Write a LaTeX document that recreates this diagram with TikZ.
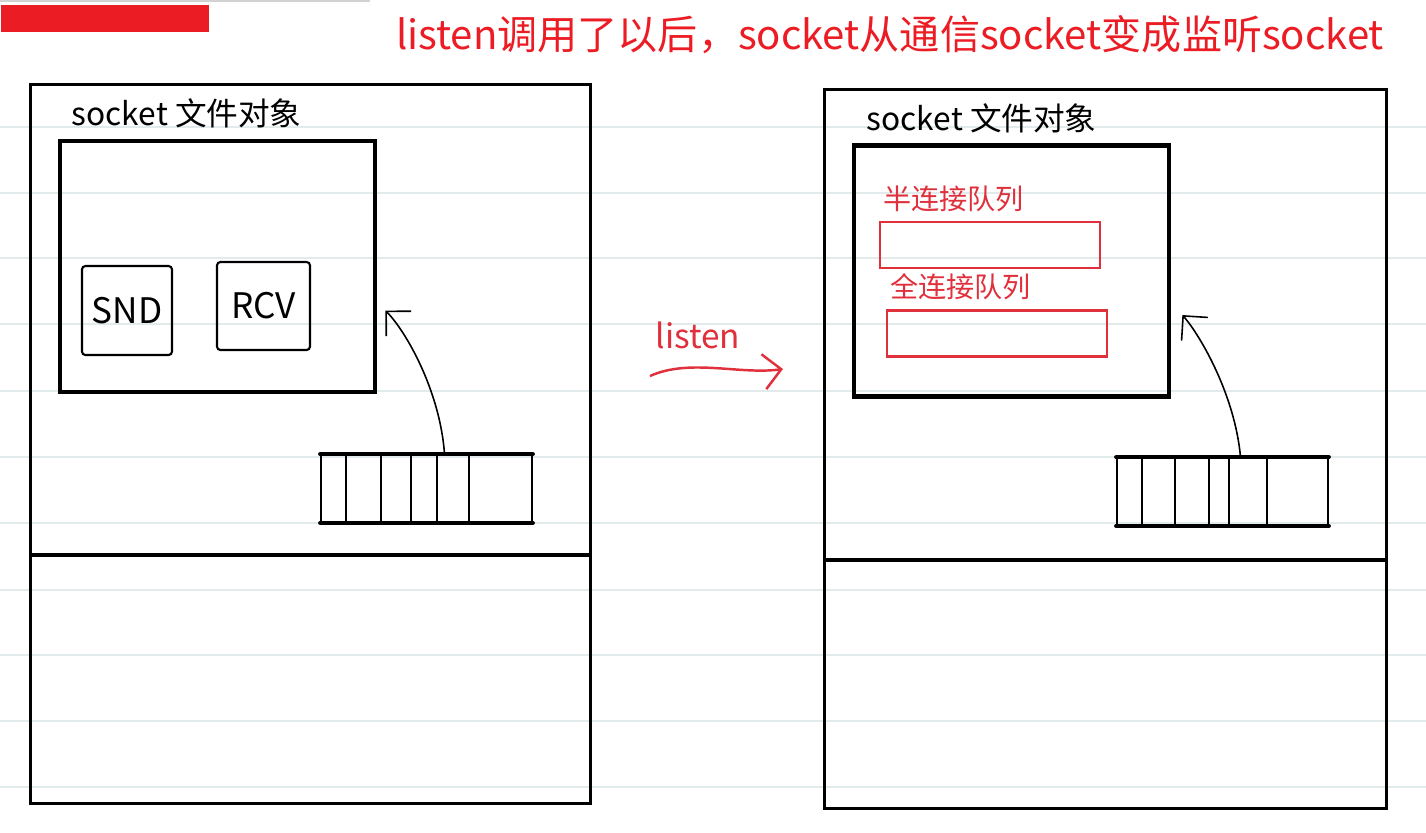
\documentclass[tikz,border=0pt]{standalone}
\usepackage{fontspec}
\newfontfamily\cjk{Noto Sans CJK SC}
\usetikzlibrary{arrows.meta,positioning}
\definecolor{titlered}{HTML}{EC1C24}
\definecolor{penred}{HTML}{E0303C}
\definecolor{ruled}{HTML}{E2EBEB}
\begin{document}
\begin{tikzpicture}[x=0.01cm,y=-0.01cm,
  frame/.style={draw, line width=0.9pt, inner sep=0pt, minimum height=7.18cm},
  objbox/.style={draw, line width=1.3pt, minimum width=3.15cm, minimum height=2.51cm, inner sep=0pt},
  bufbox/.style={draw, line width=0.6pt, rounded corners=1pt, inner sep=0pt, font=\cjk\fontsize{10}{12}\selectfont},
  queue/.style={draw, line width=0.5pt, minimum width=2.11cm, minimum height=0.67cm, inner sep=0pt},
  qedge/.style={line width=1.1pt, line cap=round},
  hand/.style={font=\cjk\fontsize{9}{11}\selectfont, inner sep=1pt, anchor=south west},
  redq/.style={draw=penred, line width=0.6pt, minimum width=2.2cm, minimum height=0.46cm, inner sep=0pt},
  redlabel/.style={text=penred, font=\cjk\fontsize{8}{10}\selectfont, inner sep=1pt, anchor=south west},
  pen/.style={line width=0.45pt, -{Straight Barb[length=5pt]}}
]
\useasboundingbox (0,0) rectangle (1426,832);
% ruled paper
\foreach \y in {127,193,258,324,391,457,523,590,655,721,787}
  \draw[ruled, line width=0.5pt] (0,\y) -- (1426,\y);
\draw[gray!35, line width=0.6pt] (0,1) -- (370,1);

% title
\fill[titlered] (1,5) rectangle (209,32);
\node[text=titlered, font=\cjk\fontsize{11.4}{13}\selectfont, inner sep=0pt] (title) at (890,35) {listen调用了以后，socket从通信socket变成监听socket};

% before listen
\node[frame, minimum width=5.59cm] (lsock) at (310.5,444){};
\draw[line width=1.1pt] ([yshift=-1.11cm]lsock.west) -- ([yshift=-1.11cm]lsock.east);
\node[objbox] (lobj) at (217.5,266.5){};
\node[hand] (llab) at ([xshift=0.1cm,yshift=0.06cm]lobj.north west) {socket 文件对象};
\node[bufbox, minimum width=0.9cm, minimum height=0.89cm] (snd) at (127,310.5){SND};
\node[bufbox, minimum width=0.93cm, minimum height=0.88cm] (rcv) at (263.5,306){RCV};
\node[queue] (lq) at (426.5,488.5){};
\draw[qedge] (lq.north west) -- (lq.north east);
\draw[qedge] (lq.south west) -- (lq.south east);
\foreach \dx in {26,61,91,117,149}
  \draw[line width=0.4pt] (lq.north west) ++(\dx,0) -- ++(0,67);
\draw[pen] ([xshift=0.18cm]lq.north) .. controls (440,390) and (405,330) .. ([xshift=0.08cm,yshift=-0.44cm]lobj.east);

% listen
\node[text=penred, font=\cjk\fontsize{9.5}{11}\selectfont] (lis) at (698,335) {listen};
\coordinate (ls) at (650,376);
\coordinate (le) at (783,369);
\draw[penred, line width=0.7pt, -{Straight Barb[length=5pt]}] (ls) .. controls (690,358) and (740,375) .. (le);

% after listen
\node[frame, minimum width=5.61cm] (rsock) at (1105.5,449){};
\draw[line width=1.1pt] ([yshift=-1.11cm]rsock.west) -- ([yshift=-1.11cm]rsock.east);
\node[objbox] (robj) at (1011.5,271){};
\node[hand] (rlab) at ([xshift=0.11cm,yshift=0.06cm]robj.north west) {socket 文件对象};
\node[redq] (half) at (990,245){};
\node[redlabel] (halflab) at ([yshift=0.05cm]half.north west) {半连接队列};
\node[redq] (full) at (997,333.5){};
\node[redlabel] (fulllab) at ([yshift=0.05cm]full.north west) {全连接队列};
\node[queue] (rq) at (1222.5,491.5){};
\draw[qedge] (rq.north west) -- (rq.north east);
\draw[qedge] (rq.south west) -- (rq.south east);
\foreach \dx in {26,59,93,113,151}
  \draw[line width=0.4pt] (rq.north west) ++(\dx,0) -- ++(0,67);
\draw[pen] ([xshift=0.18cm]rq.north) .. controls (1235,395) and (1200,335) .. ([xshift=0.11cm,yshift=-0.44cm]robj.east);

\end{tikzpicture}
\end{document}
